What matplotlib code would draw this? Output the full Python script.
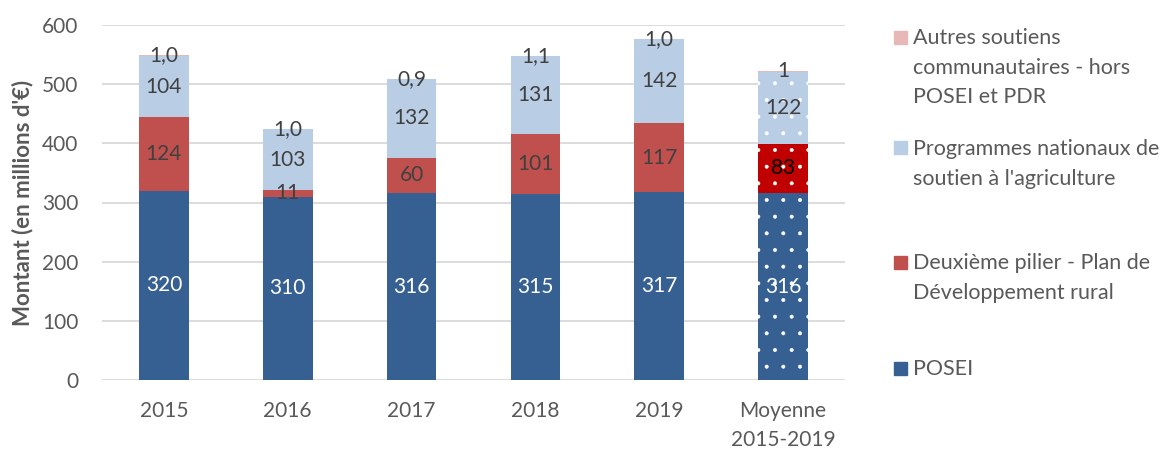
import matplotlib.pyplot as plt
from matplotlib.patches import Rectangle

plt.rcParams['font.family'] = ['Lato', 'DejaVu Sans']
plt.rcParams['hatch.linewidth'] = 0.4

# data
categories = ['2015', '2016', '2017', '2018', '2019', 'Moyenne\n2015-2019']
posei = [320, 310, 316, 315, 317, 316]
pdr = [124, 11, 60, 101, 117, 83]
programmes = [104, 103, 132, 131, 142, 122]
autres = [1.0, 1.0, 0.9, 1.1, 1.0, 1]
autres_labels = ['1,0', '1,0', '0,9', '1,1', '1,0', '1']

series_names = ['POSEI',
                'Deuxième pilier - Plan de\nDéveloppement rural',
                "Programmes nationaux de\nsoutien à l'agriculture",
                'Autres soutiens\ncommunautaires - hors\nPOSEI et PDR']
colors = ['#376092', '#C0504D', '#B9CDE5', '#E6B9B8']
avg_colors = ['#376092', '#C00000', '#B9CDE5', '#E6B9B8']
label_colors = ['white', '#404040', '#404040', '#404040']

fig = plt.figure(figsize=(11.74, 4.5), dpi=100)
ax = fig.add_axes([102 / 1174, 1 - 380 / 450, (845 - 102) / 1174, (380 - 25) / 450])

x = list(range(len(categories)))
width = 0.4
values = [posei, pdr, programmes, autres]
bottom = [0] * len(categories)
n = len(categories)
for s, vals in enumerate(values):
    for i in range(n):
        avg = i == n - 1
        ax.bar(x[i], vals[i], width, bottom=bottom[i],
               color=avg_colors[s] if avg else colors[s],
               edgecolor='white' if avg else 'none', linewidth=0,
               hatch='.' if avg else None, zorder=2)
        if s == 3:
            txt = autres_labels[i]
        else:
            txt = str(vals[i])
        tc = label_colors[s]
        if avg and s == 1:
            tc = 'black'
        ax.text(x[i], bottom[i] + vals[i] / 2, txt, ha='center', va='center',
                fontsize=15, color=tc, zorder=3)
    bottom = [b + v for b, v in zip(bottom, vals)]

ax.set_xlim(-0.5, n - 0.5)
ax.set_ylim(0, 600)
ax.set_yticks(range(0, 601, 100))
ax.set_xticks(x)
ax.set_xticklabels(categories, linespacing=1.55)
ax.tick_params(axis='both', length=0, labelsize=15, colors='#595959')
ax.tick_params(axis='y', pad=17)
ax.tick_params(axis='x', pad=15)
ax.grid(axis='y', color='#D9D9D9', linewidth=1.3, zorder=0)
ax.set_axisbelow(True)
for sp in ax.spines.values():
    sp.set_visible(False)

ax.set_ylabel("Montant (en millions d'€)", fontsize=16, fontweight='bold', color='#595959')
ax.yaxis.set_label_coords(-0.093, 0.5)

# legend, top entry first
leg_y = [37, 148, 262, 368]
for k, s in enumerate([3, 2, 1, 0]):
    yc = leg_y[k]
    fig.patches.append(Rectangle((894 / 1174, 1 - (yc + 6.5) / 450), 13 / 1174, 13 / 450,
                                 transform=fig.transFigure, color=colors[s]))
    fig.text(913 / 1174, 1 - (yc - 9) / 450, series_names[s], ha='left', va='top',
             fontsize=15.5, color='#595959', linespacing=1.6)

fig.savefig('out.png', dpi=100)
